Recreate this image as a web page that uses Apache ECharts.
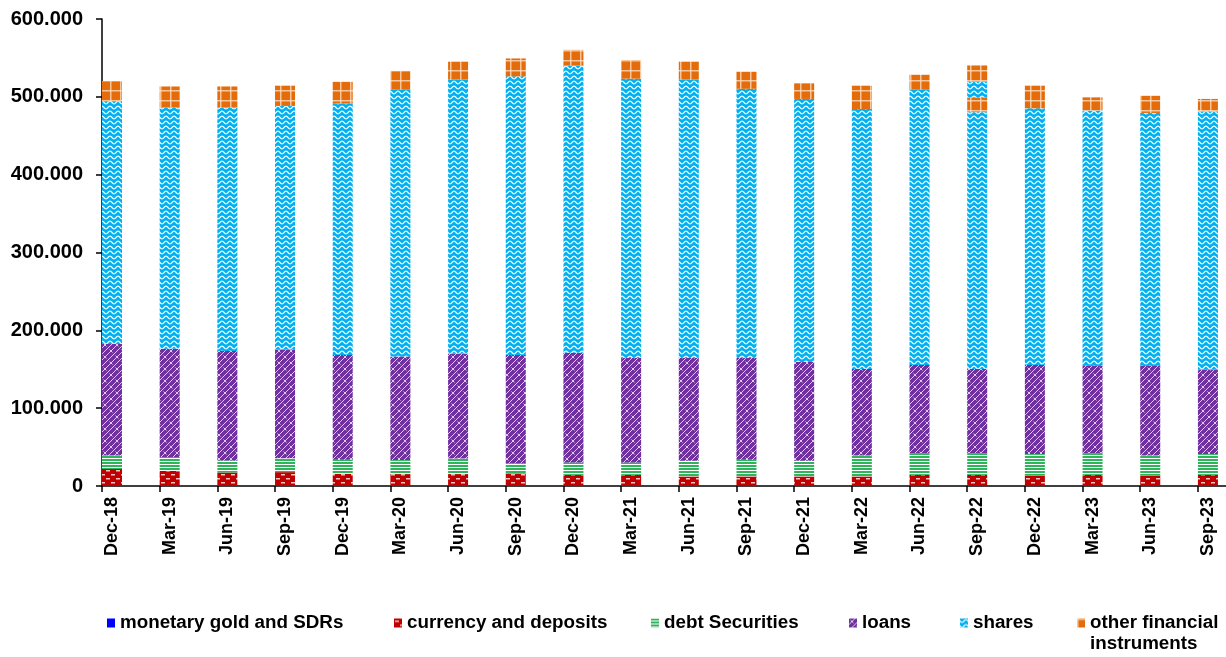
<!DOCTYPE html>
<html>
<head>
<meta charset="utf-8">
<script src="https://cdn.jsdelivr.net/npm/echarts@6/dist/echarts.min.js"></script>
<style>
html,body{margin:0;padding:0;background:#fff;overflow:hidden;}
#chart{width:1300px;height:657px;}
</style>
</head>
<body>
<div id="chart"></div>
<script>
// ---- data ----
const categories = ['Dec-18','Mar-19','Jun-19','Sep-19','Dec-19','Mar-20','Jun-20','Sep-20','Dec-20','Mar-21','Jun-21','Sep-21','Dec-21','Mar-22','Jun-22','Sep-22','Dec-22','Mar-23','Jun-23','Sep-23'];
const seriesNames = ['monetary gold and SDRs','currency and deposits','debt Securities','loans','shares','other financial instruments'];
const monetaryGold = [300,300,300,300,300,300,300,300,300,300,300,300,300,300,300,300,300,300,300,300];
const currencyDeposits = [21500,19000,17000,17500,15400,15000,15000,16000,14000,14000,12000,12000,12000,12000,14000,14000,13000,14000,13000,14000];
const debtSecurities = [17500,18000,15500,18000,18000,18000,20000,13000,16000,16000,20000,21400,20000,27000,28000,28000,27700,28000,26000,26700];
const loans = [143000,139000,140500,139500,134600,133000,135000,139000,141000,134000,132000,130600,127000,111000,113000,108000,114300,112000,115000,108300];
const shares = [312000,310000,313000,313000,323000,343000,352000,358000,369000,359000,358000,346000,338000,334000,354000,330000,330000,328000,325000,332000];
const otherInstruments = [26000,27000,27000,26000,28000,24000,23000,23000,20000,24000,23000,22000,20000,30000,19000,19000,29000,17000,22000,16000];
// Sep-22 bar shows a second shares / other segment stacked on top
const sharesUpper = [null,null,null,null,null,null,null,null,null,null,null,null,null,null,null,20000,null,null,null,null];
const otherUpper = [null,null,null,null,null,null,null,null,null,null,null,null,null,null,null,21000,null,null,null,null];
const yTicks = {min:0, max:600000, interval:100000};

// ---- patterns ----
function pattern(w,h,bg,draw){
  const c=document.createElement('canvas');c.width=w;c.height=h;
  const g=c.getContext('2d');g.fillStyle=bg;g.fillRect(0,0,w,h);draw(g);
  return {image:c,repeat:'repeat'};
}
const pGold = '#0000FF';
const pCurrency = pattern(10,8,'#C00000',g=>{
  g.fillStyle='rgba(255,215,215,0.9)';
  g.fillRect(1,2,4,1.5);g.fillRect(6,6,4,1.5);
});
const pDebt = pattern(4,3,'#ffffff',g=>{
  g.fillStyle='#2FB45C';g.fillRect(0,0,4,2);
});
const pLoans = pattern(12,12,'#7030A0',g=>{
  g.strokeStyle='rgba(255,255,255,0.75)';g.lineWidth=1;
  g.beginPath();
  g.moveTo(0,12);g.lineTo(12,0);
  g.moveTo(0,6);g.lineTo(6,0);
  g.moveTo(6,12);g.lineTo(12,6);
  g.moveTo(1.5,1.5);g.lineTo(4.5,4.5);
  g.moveTo(7.5,7.5);g.lineTo(10.5,10.5);
  g.stroke();
});
const pShares = pattern(8,5,'#00B0F0',g=>{
  g.strokeStyle='rgba(255,255,255,0.95)';g.lineWidth=1.2;
  g.beginPath();
  for(let x=-1;x<=9;x+=0.5){const y=2.5+1.4*Math.sin(2*Math.PI*x/8);if(x===-1)g.moveTo(x,y);else g.lineTo(x,y);}
  g.stroke();
});
const pOther = pattern(10,10,'#E46C0A',g=>{
  g.fillStyle='rgba(255,225,200,0.75)';
  g.fillRect(0,0,10,1.5);g.fillRect(0,0,1.5,10);
});

const FONT = "'Liberation Sans', Arial, sans-serif";
function fmt(v){
  if(v===0) return '0';
  return String(Math.round(v)).replace(/\B(?=(\d{3})+(?!\d))/g,'.');
}

const band = 57.68;
const gridTop = 19, gridH = 467, gridW = band*20, gridLeft = 102;
const barLeft = gridLeft - (band/2 - 10);

function bar(name,data,color){
  return {name:name,type:'bar',stack:'total',xAxisIndex:1,yAxisIndex:1,barWidth:20,
    data:data,itemStyle:{color:color},emphasis:{disabled:true}};
}

const legendText = {fontFamily:FONT,fontSize:18.8,fontWeight:'bold',color:'#000',lineHeight:20};
const legendLefts = [107,394,651,849,960,1077];
const legends = seriesNames.map(function(n,i){
  const multi = (i===5);
  return {
    left:legendLefts[i], top: multi ? 591.5 : 613, padding:0, itemWidth:8, itemHeight:9,
    icon:'rect', selectedMode:false,
    textStyle: multi ? Object.assign({},legendText,{lineHeight:21}) : legendText,
    data:[n],
    formatter:function(name){return name==='other financial instruments'?' \nother financial\ninstruments':name;}
  };
});

const chart = echarts.init(document.getElementById('chart'),null,{renderer:'canvas'});
chart.setOption({
  animation:false,
  backgroundColor:'#ffffff',
  grid:[
    {left:gridLeft,top:gridTop,width:gridW,height:gridH,containLabel:false},
    {left:barLeft,top:gridTop,width:gridW,height:gridH,containLabel:false}
  ],
  legend:legends,
  xAxis:[
    {type:'category',gridIndex:0,data:categories,boundaryGap:true,
     axisLine:{lineStyle:{color:'#000',width:1.5}},
     axisTick:{show:true,length:6,interval:0,lineStyle:{color:'#000',width:1.5}},
     axisLabel:{show:false},splitLine:{show:false}},
    {type:'category',gridIndex:1,data:categories,boundaryGap:true,
     axisLine:{show:false},axisTick:{show:false},splitLine:{show:false},
     axisLabel:{interval:0,rotate:90,margin:11,fontFamily:FONT,fontSize:18,fontWeight:'bold',color:'#000'}}
  ],
  yAxis:[
    {type:'value',gridIndex:0,min:yTicks.min,max:yTicks.max,interval:yTicks.interval,
     axisLine:{show:true,lineStyle:{color:'#000',width:1.5}},
     axisTick:{show:true,length:6,lineStyle:{color:'#000',width:1.5}},
     splitLine:{show:false},
     axisLabel:{margin:19,formatter:fmt,fontFamily:FONT,fontSize:20,fontWeight:'bold',color:'#000'}},
    {type:'value',gridIndex:1,min:yTicks.min,max:yTicks.max,interval:yTicks.interval,show:false,splitLine:{show:false}}
  ],
  series:[
    bar(seriesNames[0],monetaryGold,pGold),
    bar(seriesNames[1],currencyDeposits,pCurrency),
    bar(seriesNames[2],debtSecurities,pDebt),
    bar(seriesNames[3],loans,pLoans),
    bar(seriesNames[4],shares,pShares),
    bar(seriesNames[5],otherInstruments,pOther),
    bar(seriesNames[4],sharesUpper,pShares),
    bar(seriesNames[5],otherUpper,pOther)
  ]
});
</script>
</body>
</html>
